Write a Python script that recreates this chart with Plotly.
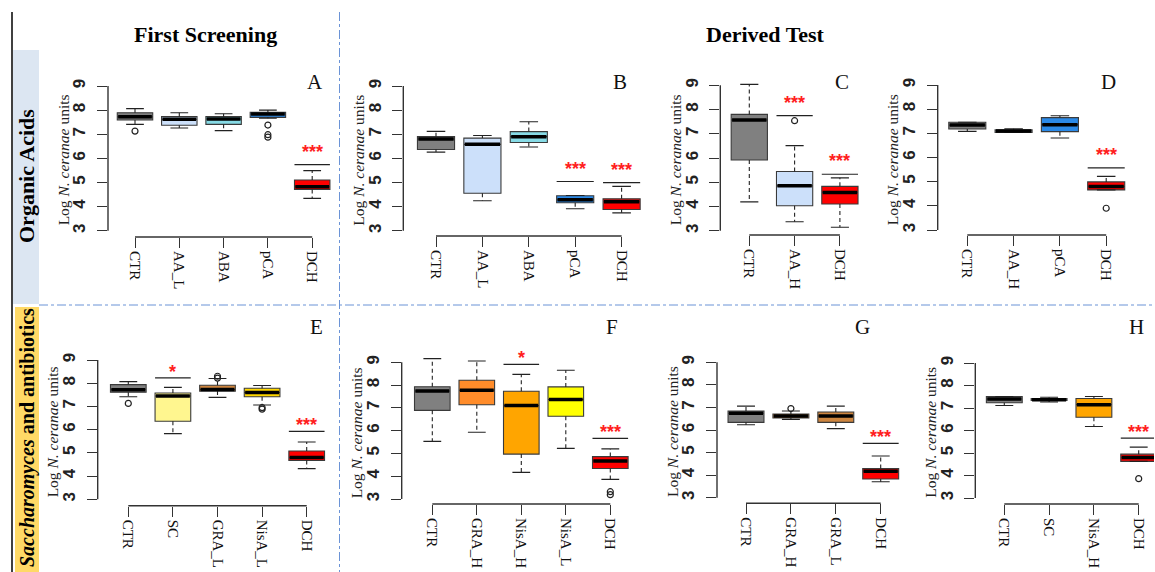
import plotly.graph_objects as go

W, H = 1155, 572

# ------------------------------------------------------------------ data
A_cats = ["CTR", "AA_L", "ABA", "pCA", "DCH"]
A_q1 = [7.59, 7.37, 7.41, 7.70, 4.71]
A_med = [7.72, 7.62, 7.63, 7.84, 4.82]
A_q3 = [7.89, 7.73, 7.73, 7.91, 5.10]
A_lo = [7.41, 7.26, 7.15, 7.66, 4.34]
A_hi = [8.06, 7.89, 7.85, 8.00, 5.49]
A_out_cat = ["CTR", "pCA", "pCA", "pCA"]
A_out_val = [7.13, 7.38, 6.98, 6.88]
A_sig_cat = ["DCH"]
A_sig_val = [5.74]
A_sig_lab = ["***"]

B_cats = ["CTR", "AA_L", "ABA", "pCA", "DCH"]
B_q1 = [6.37, 4.55, 6.66, 4.16, 3.88]
B_med = [6.80, 6.58, 6.90, 4.28, 4.20]
B_q3 = [6.90, 6.84, 7.11, 4.45, 4.32]
B_lo = [6.26, 4.24, 6.47, 3.91, 3.74]
B_hi = [7.12, 6.95, 7.52, 4.46, 4.84]
B_out_cat = []
B_out_val = []
B_sig_cat = ["pCA", "DCH"]
B_sig_val = [5.04, 4.99]
B_sig_lab = ["***", "***"]

C_cats = ["CTR", "AA_H", "DCH"]
C_q1 = [5.92, 4.03, 4.10]
C_med = [7.57, 4.85, 4.58]
C_q3 = [7.80, 5.44, 4.83]
C_lo = [4.19, 3.37, 3.14]
C_hi = [9.04, 6.51, 5.18]
C_out_cat = ["AA_H"]
C_out_val = [7.54]
C_sig_cat = ["AA_H", "DCH"]
C_sig_val = [7.75, 5.33]
C_sig_lab = ["***", "***"]

D_cats = ["CTR", "AA_H", "pCA", "DCH"]
D_q1 = [7.18, 7.04, 7.07, 4.66]
D_med = [7.34, 7.10, 7.36, 4.80]
D_q3 = [7.46, 7.15, 7.65, 4.99]
D_lo = [7.08, 7.04, 6.81, 4.66]
D_hi = [7.46, 7.19, 7.73, 5.22]
D_out_cat = ["DCH"]
D_out_val = [3.90]
D_sig_cat = ["DCH"]
D_sig_val = [5.57]
D_sig_lab = ["***"]

E_cats = ["CTR", "SC", "GRA_L", "NisA_L", "DCH"]
E_q1 = [7.61, 6.36, 7.66, 7.42, 4.67]
E_med = [7.72, 7.45, 7.73, 7.60, 4.80]
E_q3 = [7.94, 7.58, 7.91, 7.78, 5.08]
E_lo = [7.42, 5.83, 7.39, 7.06, 4.32]
E_hi = [8.07, 7.82, 8.20, 7.90, 5.47]
E_out_cat = ["CTR", "GRA_L", "GRA_L", "NisA_L", "NisA_L"]
E_out_val = [7.13, 8.30, 8.22, 6.95, 6.88]
E_sig_cat = ["SC", "DCH"]
E_sig_val = [8.23, 5.93]
E_sig_lab = ["*", "***"]

F_cats = ["CTR", "GRA_H", "NisA_H", "NisA_L", "DCH"]
F_q1 = [6.89, 7.14, 4.97, 6.63, 4.34]
F_med = [7.74, 7.77, 7.10, 7.37, 4.67]
F_q3 = [7.93, 8.21, 7.73, 7.92, 4.86]
F_lo = [5.53, 5.93, 4.17, 5.22, 3.86]
F_hi = [9.16, 9.06, 8.47, 8.65, 5.20]
F_out_cat = ["DCH", "DCH"]
F_out_val = [3.32, 3.19]
F_sig_cat = ["NisA_H", "DCH"]
F_sig_val = [8.91, 5.66]
F_sig_lab = ["*", "***"]

G_cats = ["CTR", "GRA_H", "GRA_L", "DCH"]
G_q1 = [6.34, 6.53, 6.34, 3.83]
G_med = [6.74, 6.62, 6.62, 4.17]
G_q3 = [6.84, 6.71, 6.80, 4.29]
G_lo = [6.23, 6.47, 6.06, 3.71]
G_hi = [7.06, 6.84, 7.06, 4.85]
G_out_cat = ["GRA_H"]
G_out_val = [6.95]
G_sig_cat = ["DCH"]
G_sig_val = [5.41]
G_sig_lab = ["***"]

H_cats = ["CTR", "SC", "NisA_H", "DCH"]
H_q1 = [7.23, 7.33, 6.59, 4.63]
H_med = [7.40, 7.37, 7.15, 4.80]
H_q3 = [7.51, 7.42, 7.42, 4.95]
H_lo = [7.11, 7.27, 6.18, 4.63]
H_hi = [7.51, 7.48, 7.51, 5.26]
H_out_cat = ["DCH"]
H_out_val = [3.86]
H_sig_cat = ["DCH"]
H_sig_val = [5.66]
H_sig_lab = ["***"]

y_ticks = [3, 4, 5, 6, 7, 8, 9]
y_title = "Log <i>N. ceranae</i> units"
col_titles = ["First Screening", "Derived Test"]
row_titles = ["Organic Acids", "<i>Saccharomyces</i> and antibiotics"]
panel_letters = ["A", "B", "C", "D", "E", "F", "G", "H"]

# ------------------------------------------------------------------ styles
GRAY, LBLUE, CYAN, BLUE, RED = "#808080", "#cce0fa", "#87dbe6", "#2b8ae8", "#ff0000"
KHAKI, PERU, GOLD, DORANGE, ORANGE, YELLOW = "#fff68f", "#cd853f", "#ffd700", "#ff8c2a", "#ffa500", "#ffff00"
colors = {
    "A": [GRAY, LBLUE, CYAN, BLUE, RED],
    "B": [GRAY, LBLUE, CYAN, BLUE, RED],
    "C": [GRAY, LBLUE, RED],
    "D": [GRAY, LBLUE, BLUE, RED],
    "E": [GRAY, KHAKI, PERU, GOLD, RED],
    "F": [GRAY, DORANGE, ORANGE, YELLOW, RED],
    "G": [GRAY, PERU, PERU, RED],
    "H": [GRAY, KHAKI, ORANGE, RED],
}
# geometry in pixels: y-axis x, first category x, category spacing, y(9), y(3), x-axis y, letter x,y, row
geom = {
    "A": dict(ax=108.0, c0=135.0, dc=44.3, y9=86.0, y3=230.7, xa=237.0, lx=315, ly=82, row=0),
    "B": dict(ax=403.3, c0=436.0, dc=46.4, y9=86.0, y3=230.7, xa=236.0, lx=620, ly=82, row=0),
    "C": dict(ax=720.3, c0=749.3, dc=45.3, y9=85.3, y3=230.7, xa=235.0, lx=842, ly=82, row=0),
    "D": dict(ax=937.7, c0=967.3, dc=46.3, y9=85.0, y3=230.0, xa=235.0, lx=1108, ly=82, row=0),
    "E": dict(ax=97.7, c0=128.3, dc=44.6, y9=360.0, y3=499.3, xa=505.7, lx=316, ly=327, row=1),
    "F": dict(ax=401.7, c0=432.3, dc=44.5, y9=362.3, y3=499.0, xa=504.0, lx=612, ly=327, row=1),
    "G": dict(ax=717.0, c0=746.0, dc=44.9, y9=362.3, y3=497.7, xa=503.3, lx=862, ly=327, row=1),
    "H": dict(ax=975.3, c0=1004.3, dc=44.8, y9=363.0, y3=498.0, xa=504.0, lx=1136, ly=327, row=1),
}
data = {
    "A": (A_cats, A_q1, A_med, A_q3, A_lo, A_hi, A_out_cat, A_out_val, A_sig_cat, A_sig_val, A_sig_lab),
    "B": (B_cats, B_q1, B_med, B_q3, B_lo, B_hi, B_out_cat, B_out_val, B_sig_cat, B_sig_val, B_sig_lab),
    "C": (C_cats, C_q1, C_med, C_q3, C_lo, C_hi, C_out_cat, C_out_val, C_sig_cat, C_sig_val, C_sig_lab),
    "D": (D_cats, D_q1, D_med, D_q3, D_lo, D_hi, D_out_cat, D_out_val, D_sig_cat, D_sig_val, D_sig_lab),
    "E": (E_cats, E_q1, E_med, E_q3, E_lo, E_hi, E_out_cat, E_out_val, E_sig_cat, E_sig_val, E_sig_lab),
    "F": (F_cats, F_q1, F_med, F_q3, F_lo, F_hi, F_out_cat, F_out_val, F_sig_cat, F_sig_val, F_sig_lab),
    "G": (G_cats, G_q1, G_med, G_q3, G_lo, G_hi, G_out_cat, G_out_val, G_sig_cat, G_sig_val, G_sig_lab),
    "H": (H_cats, H_q1, H_med, H_q3, H_lo, H_hi, H_out_cat, H_out_val, H_sig_cat, H_sig_val, H_sig_lab),
}

SERIF = "Liberation Serif"
SANS = "Liberation Sans"
AXC = "#333333"
BOXW = 0.8
STAPLE = 0.2


def fx(px):
    return px / W


def fy(py):
    return 1 - py / H


def note(x, y, text, size, family=SERIF, color="black", angle=0):
    return dict(xref="paper", yref="paper", x=fx(x), y=fy(y), text=text, showarrow=False,
                xanchor="center", yanchor="middle", textangle=angle,
                font=dict(family=family, size=size, color=color))


fig = go.Figure()
shapes = []
annotations = []
layout_axes = {}

for k, key in enumerate(panel_letters, start=1):
    cats, q1, med, q3, lo, hi, oc, ov, sc, sv, sl = data[key]
    g = geom[key]
    n = len(cats)
    sx = "" if k == 1 else str(k)
    xr, yr = "x" + sx, "y" + sx
    unit = (g["y3"] - g["y9"]) / 6.0
    top_val = 9.6
    top_py = g["y9"] - (top_val - 9) * unit
    right_px = min(g["c0"] + (n - 1 + 0.6) * g["dc"], W - 1)
    x_lo = -(g["c0"] - g["ax"]) / g["dc"]
    x_hi = (right_px - g["c0"]) / g["dc"]
    y_lo = 3 - (g["xa"] - g["y3"]) / unit

    layout_axes["xaxis" + sx] = dict(
        domain=[fx(g["ax"]), fx(right_px)], range=[x_lo, x_hi], anchor=yr,
        tickmode="array", tickvals=list(range(n)), ticktext=cats,
        ticks="outside", ticklen=10, tickcolor=AXC, tickwidth=1.3,
        tickangle=90, tickfont=dict(family=SERIF, size=15, color="#111"),
        showline=False, showgrid=False, zeroline=False, fixedrange=True)
    layout_axes["yaxis" + sx] = dict(
        domain=[fy(g["xa"]), fy(top_py)], range=[y_lo, top_val], anchor=xr,
        tickmode="array", tickvals=y_ticks, ticktext=["<b>%d</b>" % t for t in y_ticks],
        ticks="outside", ticklen=10, tickcolor=AXC, tickwidth=1.3,
        tickangle=-90, tickfont=dict(family=SANS, size=17, color="#222"),
        ticklabelstandoff=5,
        showline=False, showgrid=False, zeroline=False, fixedrange=True)

    # detached R-style axis lines
    shapes.append(dict(type="line", xref=xr + " domain", yref=yr, x0=0, x1=0,
                       y0=y_ticks[0], y1=y_ticks[-1], line=dict(color=AXC, width=1.4)))
    shapes.append(dict(type="line", xref=xr, yref=yr + " domain", x0=0, x1=n - 1,
                       y0=0, y1=0, line=dict(color=AXC, width=1.4)))

    # whiskers (dashed) and staples
    wx, wy, stx, sty = [], [], [], []
    for i in range(n):
        wx += [i, i, None, i, i, None]
        wy += [q3[i], hi[i], None, q1[i], lo[i], None]
        stx += [i - STAPLE, i + STAPLE, None, i - STAPLE, i + STAPLE, None]
        sty += [hi[i], hi[i], None, lo[i], lo[i], None]
    fig.add_trace(go.Scatter(x=wx, y=wy, mode="lines", xaxis=xr, yaxis=yr,
                             line=dict(color="#222", width=1.1, dash="4px,3px"),
                             hoverinfo="skip", showlegend=False))
    fig.add_trace(go.Scatter(x=stx, y=sty, mode="lines", xaxis=xr, yaxis=yr,
                             line=dict(color="#222", width=1.1),
                             hoverinfo="skip", showlegend=False))

    # boxes
    for i in range(n):
        fig.add_trace(go.Box(x=[i], q1=[q1[i]], median=[med[i]], q3=[q3[i]],
                             lowerfence=[q1[i]], upperfence=[q3[i]],
                             width=BOXW, fillcolor=colors[key][i],
                             line=dict(color="#3a3a3a", width=1.1),
                             xaxis=xr, yaxis=yr, hoverinfo="skip", showlegend=False))

    # thick medians
    mx, my = [], []
    for i in range(n):
        mx += [i - BOXW / 2 + 0.02, i + BOXW / 2 - 0.02, None]
        my += [med[i], med[i], None]
    fig.add_trace(go.Scatter(x=mx, y=my, mode="lines", xaxis=xr, yaxis=yr,
                             line=dict(color="black", width=3.5),
                             hoverinfo="skip", showlegend=False))

    # outliers
    if oc:
        fig.add_trace(go.Scatter(x=[cats.index(c) for c in oc], y=ov, mode="markers",
                                 xaxis=xr, yaxis=yr,
                                 marker=dict(symbol="circle-open", size=6, color="#222",
                                             line=dict(width=1.2)),
                                 hoverinfo="skip", showlegend=False))

    # significance
    for c, v, lab in zip(sc, sv, sl):
        i = cats.index(c)
        shapes.append(dict(type="line", xref=xr, yref=yr, x0=i - 0.4, x1=i + 0.4,
                           y0=v, y1=v, line=dict(color="#222", width=1.2)))
        annotations.append(dict(xref=xr, yref=yr, x=i, y=v, text="<b>%s</b>" % lab, showarrow=False,
                                xanchor="center", yanchor="bottom",
                                yshift=1 if g["row"] == 0 else -6,
                                font=dict(family=SANS, size=18, color="#ff2020")))

    # y-axis title
    annotations.append(note(g["ax"] - 45, (g["y9"] + g["y3"]) / 2 + 2, y_title, 15.5,
                            color="#222", angle=-90))
    # panel letter
    annotations.append(note(g["lx"], g["ly"], key, 21, color="#111"))

# column headers
annotations.append(note(205, 35, "<b>%s</b>" % col_titles[0], 22))
annotations.append(note(765, 34, "<b>%s</b>" % col_titles[1], 22))

# row bands and labels
shapes.append(dict(type="rect", xref="paper", yref="paper", x0=fx(13), x1=fx(39), y0=fy(304), y1=fy(50),
                   fillcolor="#dce6f2", line=dict(width=0), layer="below"))
shapes.append(dict(type="rect", xref="paper", yref="paper", x0=fx(15), x1=fx(39), y0=fy(572), y1=fy(307),
                   fillcolor="#ffd966", line=dict(width=0), layer="below"))
annotations.append(note(26, 176, "<b>%s</b>" % row_titles[0], 22, angle=-90))
annotations.append(note(27, 438, "<b>%s</b>" % row_titles[1], 20, angle=-90))

# frame lines
shapes.append(dict(type="line", xref="paper", yref="paper", x0=fx(12), x1=fx(12), y0=fy(12), y1=0,
                   line=dict(color="black", width=1.5)))
shapes.append(dict(type="line", xref="paper", yref="paper", x0=fx(339.5), x1=fx(339.5), y0=fy(12), y1=0,
                   line=dict(color="#6b93d6", width=1, dash="dashdot")))
shapes.append(dict(type="line", xref="paper", yref="paper", x0=fx(39), x1=1, y0=fy(305), y1=fy(305),
                   line=dict(color="#6b93d6", width=1, dash="dashdot")))

fig.update_layout(
    width=W, height=H, margin=dict(l=0, r=0, t=0, b=0),
    paper_bgcolor="white", plot_bgcolor="rgba(0,0,0,0)",
    showlegend=False, boxmode="overlay",
    shapes=shapes, annotations=annotations, **layout_axes)

fig.write_html("out.html", config={"displayModeBar": False},
               post_script="document.body.style.margin='0px';document.body.style.padding='0px';")
